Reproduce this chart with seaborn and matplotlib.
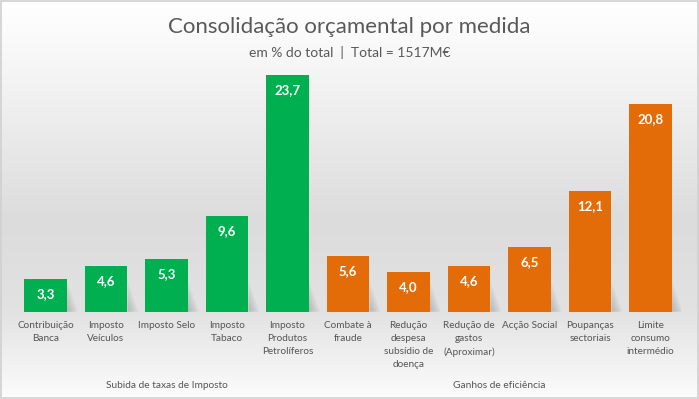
import numpy as np
import pandas as pd
import matplotlib
matplotlib.use("Agg")
import matplotlib.pyplot as plt
from matplotlib.colors import LinearSegmentedColormap
from matplotlib.patches import Polygon, Rectangle
import seaborn as sns

categories = ["Contribuição\nBanca", "Imposto\nVeículos", "Imposto Selo", "Imposto\nTabaco",
              "Imposto\nProdutos\nPetrolíferos", "Combate à\nfraude",
              "Redução\ndespesa\nsubsídio de\ndoença", "Redução de\ngastos\n(Aproximar)",
              "Acção Social", "Poupanças\nsectoriais", "Limite\nconsumo\nintermédio"]
values = [3.3, 4.6, 5.3, 9.6, 23.7, 5.6, 4.0, 4.6, 6.5, 12.1, 20.8]
groups = ["Subida de taxas de Imposto"] * 5 + ["Ganhos de eficiência"] * 6
group_names = ["Subida de taxas de Imposto", "Ganhos de eficiência"]
group_colors = ["#00B050", "#E36C09"]

title = "Consolidação orçamental por medida"
subtitle = "em % do total  |  Total = 1517M€"

sns.set_style("white")
plt.rcParams['font.family'] = ['Lato', 'DejaVu Sans']

W, H = 699, 399
fig = plt.figure(figsize=(W / 100, H / 100), dpi=100)

# background gradient
bg = fig.add_axes([0, 0, 1, 1], zorder=-10)
cmap = LinearSegmentedColormap.from_list(
    "bg", [(0.0, "#ffffff"), (0.15, "#f7f7f7"), (0.55, "#dcdcdc"),
           (0.78, "#e2e2e2"), (1.0, "#fcfcfc")])
grad = np.linspace(0, 1, 256).reshape(-1, 1)
bg.imshow(grad, aspect="auto", cmap=cmap, extent=[0, 1, 0, 1], origin="upper")
bg.set_xlim(0, 1); bg.set_ylim(0, 1)
bg.axis("off")
bg.add_patch(Rectangle((0.001, 0.002), 0.997, 0.995, fill=False, edgecolor="#d0d0d0", lw=1.2,
                       transform=bg.transAxes))

df = pd.DataFrame({"cat": categories, "val": values, "grp": groups})

left = 15.25 / W
width = 665.5 / W
bottom = (H - 311.7) / H
ymax = 25
height = ymax * 10.0 / H
ax = fig.add_axes([left, bottom, width, height])
ax.patch.set_alpha(0)

sns.barplot(data=df, x="cat", y="val", hue="grp", hue_order=group_names,
            palette=group_colors, dodge=False, width=0.71, saturation=1,
            linewidth=0, edgecolor="none", legend=False, ax=ax, zorder=3)
ax.set_ylim(0, ymax)
ax.set_xlim(-0.5, len(categories) - 0.5)
for s in ax.spines.values():
    s.set_visible(False)
ax.set_xlabel("")
ax.set_ylabel("")
ax.set_yticks([])
ax.tick_params(axis="x", length=0, pad=7, labelsize=7.2, labelcolor="#555555")
ax.set_xticks(range(len(categories)))
ax.set_xticklabels(categories, linespacing=1.55)

# soft shadows and value labels
for p in ax.patches:
    h = p.get_height()
    if h <= 0:
        continue
    x0 = p.get_x(); w = p.get_width(); x1 = x0 + w
    for k in range(6):
        f = (k + 1) / 6.0
        hs = min(h, 3.0) * f
        dx = 0.18 * f
        sh = Polygon([(x1, 0), (x1, hs), (x1 + dx, 0)],
                     closed=True, facecolor="#8a8a8a", alpha=0.09, edgecolor="none", zorder=2)
        ax.add_patch(sh)
    ax.annotate(f"{h:.1f}".replace(".", ","), (x0 + w / 2, h), xytext=(0, -15),
                textcoords="offset pixels",
                ha="center", va="center", color="white", fontsize=9.5, fontweight="bold", zorder=5)

fig.text(0.5, 1 - 33.3 / H, title, ha="center", va="baseline", fontsize=16, color="#595959")
fig.text(0.5, 1 - 56.7 / H, subtitle, ha="center", va="baseline", fontsize=10, color="#595959")

# group labels
for gi, g in enumerate(group_names):
    idx = [i for i, gg in enumerate(groups) if gg == g]
    xc = (min(idx) + max(idx)) / 2
    xfig = fig.transFigure.inverted().transform(ax.transData.transform((xc, 0)))[0]
    fig.text(xfig, 1 - 385 / H, g, ha="center", va="center", fontsize=7.3, color="#555555")

fig.savefig("out.png", dpi=100)
